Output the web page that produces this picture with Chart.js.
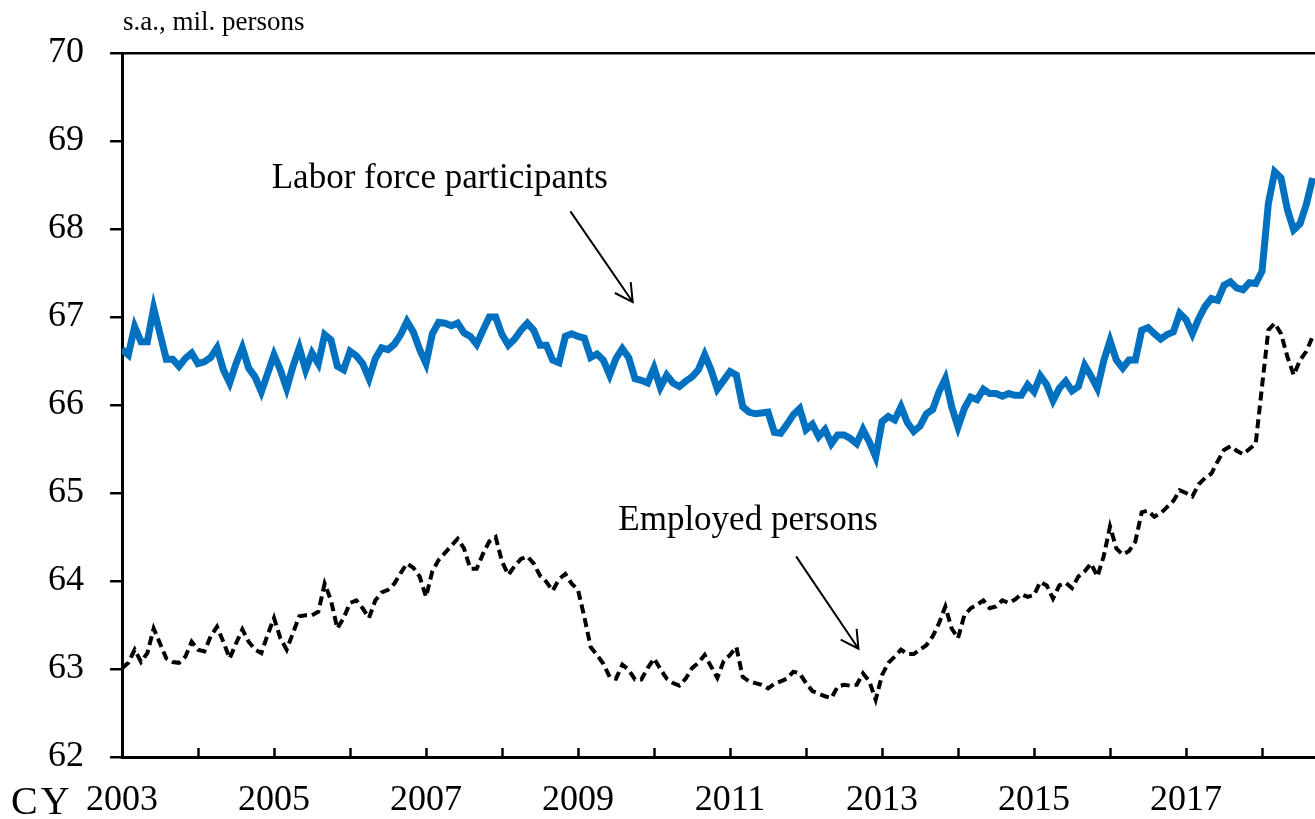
<!DOCTYPE html>
<html>
<head>
<meta charset="utf-8">
<script src="https://cdn.jsdelivr.net/npm/chart.js"></script>
<style>
  body { margin: 0; background: #fff; }
  canvas { display: block; }
</style>
</head>
<body>
<canvas id="myChart" width="1315" height="819"></canvas>
<script>
// monthly, s.a., mil. persons, Jan 2003 onward
const startYear = 2003;
const labelYears = [2003, 2005, 2007, 2009, 2011, 2013, 2015, 2017];

const laborForce = [
  66.63, 66.57, 66.89, 66.72, 66.72, 67.10, 66.81, 66.52, 66.52, 66.44, 66.53, 66.59,
  66.47, 66.49, 66.54, 66.65, 66.40, 66.25, 66.47, 66.65, 66.42, 66.32, 66.15, 66.36,
  66.57, 66.40, 66.19, 66.44, 66.65, 66.40, 66.59, 66.47, 66.80, 66.74, 66.44, 66.40,
  66.61, 66.56, 66.47, 66.30, 66.53, 66.65, 66.63, 66.69, 66.80, 66.95, 66.83, 66.63,
  66.47, 66.81, 66.94, 66.93, 66.90, 66.93, 66.82, 66.78, 66.69, 66.85, 67.00, 67.00,
  66.80, 66.68, 66.75, 66.85, 66.93, 66.85, 66.68, 66.68, 66.51, 66.48, 66.78, 66.81,
  66.78, 66.76, 66.54, 66.58, 66.51, 66.34, 66.53, 66.64, 66.54, 66.30, 66.28, 66.25,
  66.42, 66.20, 66.34, 66.25, 66.21, 66.27, 66.32, 66.40, 66.57, 66.40, 66.18, 66.28,
  66.38, 66.34, 65.98, 65.92, 65.90, 65.91, 65.92, 65.69, 65.68, 65.78, 65.89, 65.96,
  65.72, 65.78, 65.64, 65.72, 65.56, 65.66, 65.66, 65.62, 65.56, 65.72, 65.58, 65.41,
  65.81, 65.87, 65.83, 65.98, 65.80, 65.70, 65.76, 65.90, 65.95, 66.15, 66.30, 65.98,
  65.75, 65.96, 66.09, 66.06, 66.18, 66.13, 66.13, 66.10, 66.13, 66.11, 66.11, 66.23,
  66.15, 66.33, 66.23, 66.05, 66.19, 66.27, 66.16, 66.21, 66.45, 66.33, 66.19, 66.50,
  66.73, 66.51, 66.42, 66.51, 66.51, 66.85, 66.88, 66.81, 66.75, 66.80, 66.83, 67.04,
  66.97, 66.81, 66.98, 67.12, 67.21, 67.19, 67.36, 67.40, 67.33, 67.31, 67.39, 67.38,
  67.52, 68.29, 68.65, 68.58, 68.22, 67.99, 68.06, 68.28, 68.58
];

const employed = [
  63.01, 63.07, 63.22, 63.08, 63.18, 63.46, 63.29, 63.12, 63.08, 63.07, 63.14, 63.31,
  63.22, 63.20, 63.37, 63.48, 63.31, 63.12, 63.29, 63.45, 63.31, 63.22, 63.18, 63.39,
  63.58, 63.35, 63.22, 63.41, 63.60, 63.61, 63.61, 63.65, 63.97, 63.78, 63.46, 63.58,
  63.75, 63.78, 63.69, 63.58, 63.78, 63.87, 63.90, 63.97, 64.09, 64.20, 64.15, 64.05,
  63.82, 64.11, 64.24, 64.32, 64.40, 64.48, 64.37, 64.14, 64.14, 64.31, 64.45, 64.50,
  64.22, 64.07, 64.17, 64.25, 64.28, 64.20, 64.06, 63.99, 63.89, 64.02, 64.08, 63.97,
  63.90, 63.59, 63.25, 63.16, 63.06, 62.91, 62.89, 63.05, 62.99, 62.88, 62.88, 63.01,
  63.12, 63.00, 62.89, 62.84, 62.81, 62.89, 63.01, 63.07, 63.16, 63.03, 62.90, 63.09,
  63.16, 63.25, 62.91, 62.86, 62.84, 62.82, 62.78, 62.83, 62.86, 62.89, 62.97, 62.95,
  62.84, 62.75, 62.72, 62.69, 62.67, 62.80, 62.82, 62.81, 62.82, 62.95, 62.86, 62.65,
  62.93, 63.07, 63.14, 63.22, 63.17, 63.17, 63.22, 63.27, 63.37, 63.52, 63.71, 63.46,
  63.35, 63.61, 63.69, 63.73, 63.78, 63.69, 63.71, 63.78, 63.75, 63.79, 63.85, 63.82,
  63.84, 63.99, 63.95, 63.80, 63.95, 63.98, 63.92, 64.05, 64.11, 64.20, 64.05, 64.28,
  64.62, 64.37, 64.30, 64.34, 64.45, 64.78, 64.80, 64.73, 64.77, 64.84, 64.91, 65.03,
  65.00, 64.96, 65.10, 65.17, 65.22, 65.36, 65.49, 65.53, 65.48, 65.44, 65.50, 65.56,
  66.21, 66.85, 66.93, 66.81, 66.55, 66.34, 66.51, 66.61, 66.78
];

const toPoints = arr => arr.map((v, i) => ({ x: startYear + i / 12, y: v }));

const serif = "'Times New Roman', 'Liberation Serif', serif";

// notes drawn in data units
const notes = [
  { text: 'Labor force participants', x: 2004.97, y: 68.47, tail: [2008.90, 68.20], tip: [2009.72, 67.17] },
  { text: 'Employed persons', x: 2009.53, y: 64.58, tail: [2011.87, 64.28], tip: [2012.69, 63.23] }
];

const extras = {
  id: 'extras',
  afterDraw(chart) {
    const { ctx, scales: { x, y }, chartArea } = chart;
    ctx.save();
    ctx.fillStyle = '#000';
    ctx.strokeStyle = '#000';

    // inward year ticks
    ctx.lineWidth = 2.5;
    for (let yr = startYear + 1; yr <= 2018; yr++) {
      const px = Math.round(x.getPixelForValue(yr)) + 0.5;
      ctx.beginPath();
      ctx.moveTo(px, chartArea.bottom);
      ctx.lineTo(px, chartArea.bottom - 9);
      ctx.stroke();
    }

    ctx.textBaseline = 'alphabetic';
    ctx.textAlign = 'left';
    ctx.font = '27px ' + serif;
    ctx.fillText('s.a., mil. persons', 123, 30);
    ctx.font = '40px ' + serif;
    ctx.letterSpacing = '3px';
    ctx.fillText('CY', 11, 814);
    ctx.letterSpacing = '0px';

    ctx.font = '35px ' + serif;
    ctx.lineWidth = 2;
    notes.forEach(n => {
      ctx.fillText(n.text, x.getPixelForValue(n.x), y.getPixelForValue(n.y));
      const x0 = x.getPixelForValue(n.tail[0]), y0 = y.getPixelForValue(n.tail[1]);
      const x1 = x.getPixelForValue(n.tip[0]), y1 = y.getPixelForValue(n.tip[1]);
      ctx.beginPath();
      ctx.moveTo(x0, y0);
      ctx.lineTo(x1, y1);
      const a = Math.atan2(y1 - y0, x1 - x0);
      const L = 20, w = 0.5;
      ctx.moveTo(x1 - L * Math.cos(a - w), y1 - L * Math.sin(a - w));
      ctx.lineTo(x1, y1);
      ctx.lineTo(x1 - L * Math.cos(a + w), y1 - L * Math.sin(a + w));
      ctx.stroke();
    });
    ctx.restore();
  }
};

new Chart("myChart", {
  type: "line",
  data: {
    datasets: [{
      data: toPoints(laborForce),
      borderColor: "#0070C0",
      borderWidth: 7,
      pointRadius: 0,
      fill: false,
      label: "Labor force participants"
    }, {
      data: toPoints(employed),
      borderColor: "#000000",
      borderWidth: 4,
      borderDash: [9, 5],
      pointRadius: 0,
      fill: false,
      label: "Employed persons"
    }]
  },
  options: {
    responsive: false,
    animation: false,
    layout: { padding: { top: 53, right: 0, bottom: 0, left: 0 } },
    plugins: {
      legend: { display: false },
      tooltip: { enabled: false }
    },
    scales: {
      x: {
        type: 'linear',
        min: startYear,
        max: 2018.697,
        afterFit(s) { s.height = 62; s.paddingRight = 0; s.paddingLeft = 0; },
        border: { color: '#000', width: 3 },
        grid: { display: true, drawOnChartArea: false, drawTicks: false, color: 'transparent' },
        ticks: {
          stepSize: 1,
          autoSkip: false,
          maxRotation: 0,
          padding: 22,
          color: '#000',
          font: { family: serif, size: 36 },
          callback: v => labelYears.includes(v) ? String(v) : ''
        }
      },
      y: {
        min: 62,
        max: 70,
        afterFit(s) { s.width = 122; },
        border: { color: '#000', width: 3 },
        grid: {
          color: c => c.tick && c.tick.value === 70 ? '#000' : 'transparent',
          tickColor: '#000',
          lineWidth: 2.5,
          tickWidth: 2.5,
          tickLength: 12
        },
        ticks: {
          stepSize: 1,
          padding: 26,
          color: '#000',
          font: { family: serif, size: 36 },
          callback: v => String(v)
        }
      }
    }
  },
  plugins: [extras]
});
</script>
</body>
</html>
